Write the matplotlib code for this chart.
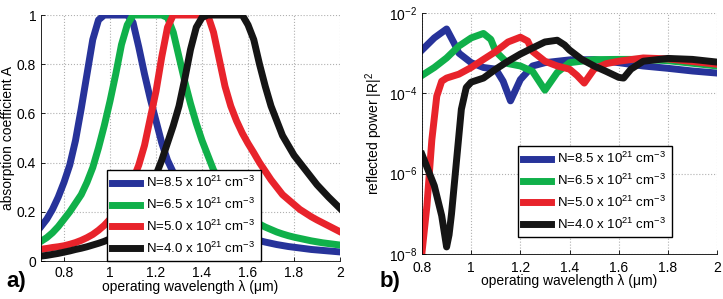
import numpy as np
import matplotlib
matplotlib.use("Agg")
import matplotlib.pyplot as plt
from matplotlib.ticker import LogLocator, NullLocator

plt.rcParams['font.family'] = ['Liberation Sans', 'DejaVu Sans']
plt.rcParams['mathtext.fontset'] = 'custom'
plt.rcParams['mathtext.rm'] = 'Liberation Sans'
plt.rcParams['mathtext.it'] = 'Liberation Sans:italic'

labels = [r'N=8.5 x 10$^{21}$ cm$^{-3}$', r'N=6.5 x 10$^{21}$ cm$^{-3}$',
          r'N=5.0 x 10$^{21}$ cm$^{-3}$', r'N=4.0 x 10$^{21}$ cm$^{-3}$']
colors = ['#27339a', '#10b04a', '#e8232b', '#151515']

# panel a) absorption coefficient, wavelength 0.7 .. 2.0 step 0.025
wl_a = [0.700, 0.725, 0.750, 0.775, 0.800, 0.825, 0.850, 0.875, 0.900, 0.925, 0.950, 0.975,
        1.000, 1.025, 1.050, 1.075, 1.100, 1.125, 1.150, 1.175, 1.200, 1.225, 1.250, 1.275,
        1.300, 1.325, 1.350, 1.375, 1.400, 1.425, 1.450, 1.475, 1.500, 1.525, 1.550, 1.575,
        1.600, 1.625, 1.650, 1.675, 1.700, 1.725, 1.750, 1.775, 1.800, 1.825, 1.850, 1.875,
        1.900, 1.925, 1.950, 1.975, 2.000]
abs_85 = [0.14, 0.17, 0.21, 0.26, 0.32, 0.39, 0.49, 0.62, 0.76, 0.90, 0.98, 1.0,
          1.0, 1.0, 1.0, 1.0, 0.97, 0.87, 0.76, 0.66, 0.57, 0.48, 0.41, 0.36,
          0.31, 0.27, 0.24, 0.215, 0.19, 0.175, 0.16, 0.147, 0.135, 0.125, 0.115, 0.105,
          0.097, 0.09, 0.083, 0.077, 0.072, 0.067, 0.063, 0.059, 0.056, 0.053, 0.05, 0.047,
          0.045, 0.043, 0.041, 0.039, 0.037]
abs_65 = [0.08, 0.095, 0.115, 0.14, 0.17, 0.2, 0.235, 0.27, 0.32, 0.38, 0.46, 0.55,
          0.65, 0.76, 0.88, 0.96, 1.0, 1.0, 1.0, 1.0, 1.0, 1.0, 0.99, 0.93,
          0.83, 0.73, 0.64, 0.56, 0.49, 0.43, 0.37, 0.33, 0.29, 0.26, 0.23, 0.205,
          0.185, 0.165, 0.15, 0.138, 0.128, 0.118, 0.11, 0.103, 0.097, 0.092, 0.087, 0.082,
          0.078, 0.074, 0.071, 0.068, 0.065]
abs_50 = [0.048, 0.051, 0.055, 0.058, 0.062, 0.068, 0.075, 0.084, 0.095, 0.108, 0.125, 0.145,
          0.17, 0.2, 0.24, 0.28, 0.33, 0.39, 0.47, 0.58, 0.69, 0.83, 0.95, 1.0,
          1.0, 1.0, 1.0, 1.0, 1.0, 1.0, 0.93, 0.82, 0.71, 0.63, 0.57, 0.52,
          0.478, 0.44, 0.40, 0.365, 0.33, 0.30, 0.27, 0.25, 0.23, 0.21, 0.195, 0.18,
          0.167, 0.155, 0.143, 0.131, 0.119]
abs_40 = [0.02, 0.023, 0.027, 0.031, 0.036, 0.041, 0.047, 0.052, 0.058, 0.065, 0.072, 0.08,
          0.09, 0.10, 0.12, 0.145, 0.175, 0.21, 0.25, 0.30, 0.35, 0.41, 0.48, 0.55,
          0.63, 0.74, 0.86, 0.95, 0.99, 1.0, 1.0, 1.0, 1.0, 1.0, 1.0, 1.0,
          0.96, 0.90, 0.80, 0.71, 0.63, 0.57, 0.51, 0.47, 0.43, 0.40, 0.37, 0.34,
          0.31, 0.285, 0.26, 0.237, 0.214]

# panel b) reflected power |R|^2
wl_r85 = [0.80, 0.85, 0.90, 0.93, 0.95, 1.00, 1.05, 1.10, 1.13, 1.16, 1.20, 1.25, 1.30,
          1.40, 1.50, 1.60, 1.70, 1.80, 1.90, 2.00]
ref_85 = [1.2e-3, 2.4e-3, 4.0e-3, 1.8e-3, 1.0e-3, 5.8e-4, 4.4e-4, 4.0e-4, 2.0e-4, 6.5e-5, 2.2e-4,
          4.8e-4, 5.8e-4, 6.8e-4, 6.9e-4, 5.8e-4, 4.8e-4, 4.2e-4, 3.6e-4, 3.2e-4]
wl_r65 = [0.80, 0.85, 0.90, 0.95, 1.00, 1.05, 1.08, 1.10, 1.15, 1.20, 1.25, 1.30, 1.35,
          1.40, 1.50, 1.60, 1.70, 1.80, 1.90, 2.00]
ref_65 = [2.8e-4, 4.4e-4, 7.6e-4, 1.5e-3, 2.4e-3, 3.1e-3, 2.2e-3, 1.1e-3, 5.5e-4, 4.8e-4, 3.5e-4,
          1.2e-4, 3.3e-4, 5.8e-4, 6.9e-4, 7.0e-4, 7.0e-4, 6.5e-4, 5.6e-4, 4.8e-4]
wl_r50 = [0.80, 0.82, 0.84, 0.86, 0.88, 0.90, 0.95, 1.00, 1.05, 1.10, 1.15, 1.20, 1.23, 1.25,
          1.30, 1.35, 1.40, 1.43, 1.46, 1.50, 1.55, 1.60, 1.70, 1.80, 1.90, 2.00]
ref_50 = [1.1e-8, 1.6e-7, 7e-6, 8.5e-5, 2.0e-4, 2.4e-4, 3.0e-4, 4.4e-4, 7e-4, 1.1e-3, 1.9e-3,
          2.5e-3, 2.0e-3, 1.1e-3, 6.3e-4, 4.8e-4, 4.0e-4, 2.8e-4, 1.8e-4, 4.0e-4, 5.5e-4, 6.3e-4,
          7.6e-4, 7.2e-4, 6.2e-4, 5.3e-4]
wl_r40 = [0.80, 0.85, 0.88, 0.90, 0.91, 0.92, 0.94, 0.96, 0.98, 1.00, 1.05, 1.10, 1.15, 1.20,
          1.25, 1.30, 1.35, 1.38, 1.40, 1.45, 1.50, 1.55, 1.60, 1.62, 1.65, 1.70, 1.80, 1.90, 2.00]
ref_40 = [3e-6, 5e-7, 9e-8, 1.5e-8, 3e-8, 1e-7, 2e-6, 4e-5, 1.4e-4, 1.9e-4, 2.4e-4, 4.0e-4, 6.3e-4,
          9.5e-4, 1.35e-3, 1.9e-3, 2.1e-3, 1.6e-3, 1.2e-3, 7e-4, 4.8e-4, 3.5e-4, 2.5e-4, 2.4e-4,
          4.0e-4, 6.3e-4, 7.4e-4, 7e-4, 6e-4]

fig = plt.figure(figsize=(7.23, 2.99), dpi=100)
ax1 = fig.add_axes([0.0567, 0.127, 0.4136, 0.8227])
ax2 = fig.add_axes([0.5837, 0.1505, 0.408, 0.806])

leg_kw = dict(borderaxespad=0, fontsize=9.5, handlelength=2.1, fancybox=False,
              edgecolor='black', framealpha=1, labelspacing=0.5, borderpad=0.4,
              handletextpad=0.5)

for y, c, lab in zip([abs_85, abs_65, abs_50, abs_40], colors, labels):
    ax1.plot(wl_a, y, color=c, lw=5, label=lab, solid_joinstyle='round')
ax1.set_xlim(0.7, 2)
ax1.set_ylim(0, 1)
ax1.set_xticks([0.8, 1, 1.2, 1.4, 1.6, 1.8, 2])
ax1.set_xticklabels(['0.8', '1', '1.2', '1.4', '1.6', '1.8', '2'])
ax1.set_yticks([0, 0.2, 0.4, 0.6, 0.8, 1])
ax1.set_yticklabels(['0', '0.2', '0.4', '0.6', '0.8', '1'])
ax1.set_xlabel(u'operating wavelength \u03bb (\u03bcm)', fontsize=10, labelpad=0)
ax1.set_ylabel('absorption coefficient A', fontsize=10, labelpad=1)
ax1.legend(loc='lower left', bbox_to_anchor=(0.22, 0.0), **leg_kw)

xs = [wl_r85, wl_r65, wl_r50, wl_r40]
ys = [ref_85, ref_65, ref_50, ref_40]
for x, y, c, lab in zip(xs, ys, colors, labels):
    ax2.plot(x, y, color=c, lw=5, label=lab, solid_joinstyle='round')
ax2.set_yscale('log')
ax2.set_xlim(0.8, 2)
ax2.set_ylim(1e-8, 1e-2)
ax2.yaxis.set_major_locator(LogLocator(base=100.0))
ax2.yaxis.set_minor_locator(NullLocator())
ax2.set_xticks([0.8, 1, 1.2, 1.4, 1.6, 1.8, 2])
ax2.set_xticklabels(['0.8', '1', '1.2', '1.4', '1.6', '1.8', '2'])
ax2.set_xlabel(u'operating wavelength \u03bb (\u03bcm)', fontsize=10, labelpad=-1)
ax2.set_ylabel(r'reflected power |R|$^2$', fontsize=10, labelpad=3)
ax2.legend(loc='lower left', bbox_to_anchor=(0.325, 0.07), **leg_kw)

for ax in (ax1, ax2):
    ax.grid(True, ls=':', color='#b0b0b0', lw=0.8)
    ax.spines['top'].set_visible(False)
    ax.spines['right'].set_visible(False)
    ax.tick_params(direction='in', length=3, labelsize=10, width=0.6)
    for s in ('left', 'bottom'):
        ax.spines[s].set_linewidth(0.6)
ax2.tick_params(axis='x', pad=5)

fig.text(0.009, 0.04, 'a)', fontsize=16, fontweight='bold')
fig.text(0.525, 0.04, 'b)', fontsize=16, fontweight='bold')

fig.savefig('out.png', dpi=100)
